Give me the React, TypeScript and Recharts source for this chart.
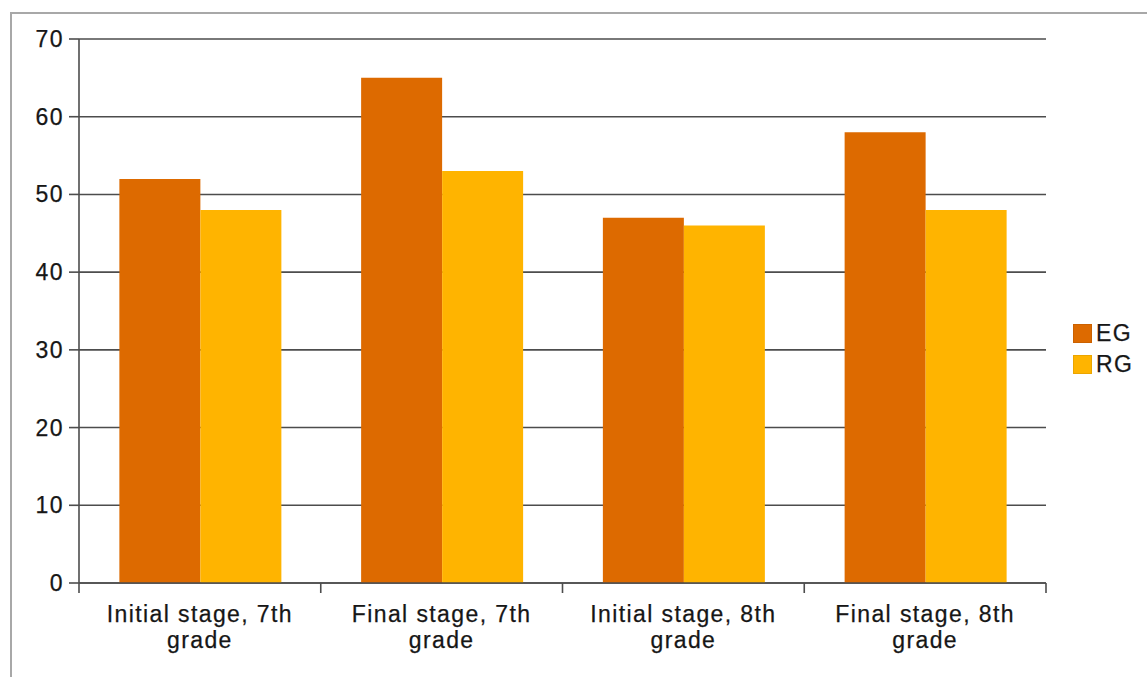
import React from "react";
import { BarChart, Bar, XAxis, YAxis, CartesianGrid } from "recharts";

const categories = [
  "Initial stage, 7th grade",
  "Final stage, 7th grade",
  "Initial stage, 8th grade",
  "Final stage, 8th grade",
];
const egValues = [52, 65, 47, 58];
const rgValues = [48, 53, 46, 48];
const yTicks = [0, 10, 20, 30, 40, 50, 60, 70];
const seriesNames = ["EG", "RG"];
const seriesColors = ["#dd6a00", "#ffb400"];

const data = categories.map((c, i) => ({ name: c, EG: egValues[i], RG: rgValues[i] }));

const FONT = "'Liberation Sans', Arial, sans-serif";
const TEXT = "#161616";
const GRID = "#4d4d4d";
const FS = 23;
const LS = "1.4px";

const W = 1147;
const H = 677;
const M = { top: 39, right: 101, bottom: 0, left: 0 };
const YW = 79;
const XH = 94;
const BAND = (W - M.left - M.right - YW) / categories.length;

const XTick = (props: any) => {
  const { x, y, payload, index } = props;
  const label: string = payload.value;
  const k = label.lastIndexOf(" ");
  const l1 = label.slice(0, k);
  const l2 = label.slice(k + 1);
  const left = x - BAND / 2;
  const right = x + BAND / 2;
  const tp = { textAnchor: "middle" as const, fill: TEXT, fontSize: FS, fontFamily: FONT, letterSpacing: LS, stroke: TEXT, strokeWidth: 0.25 };
  return (
    <g>
      <line x1={left} x2={left} y1={y} y2={y + 10} stroke={GRID} strokeWidth={1.6} />
      {index === categories.length - 1 && (
        <line x1={right} x2={right} y1={y} y2={y + 10} stroke={GRID} strokeWidth={1.6} />
      )}
      <text x={x} y={y + 39} {...tp}>
        {l1}
      </text>
      <text x={x} y={y + 65} {...tp}>
        {l2}
      </text>
    </g>
  );
};

const YTick = (props: any) => {
  const { x, y, payload } = props;
  return (
    <text
      x={x}
      y={y}
      dy={8}
      textAnchor="end"
      fill={TEXT}
      fontSize={FS}
      fontFamily={FONT}
      letterSpacing={LS}
      stroke={TEXT}
      strokeWidth={0.25}
    >
      {payload.value}
    </text>
  );
};

const LegendBox = () => (
  <div
    style={{
      position: "absolute",
      left: 1073,
      top: 318,
      fontFamily: FONT,
      fontSize: FS,
      color: TEXT,
      letterSpacing: LS,
      WebkitTextStroke: "0.25px #161616",
    }}
  >
    {seriesNames.map((n, i) => (
      <div key={n} style={{ display: "flex", alignItems: "center", height: 31 }}>
        <div
          style={{
            width: 19,
            height: 19,
            background: seriesColors[i],
            boxShadow: "inset 0 0 0 1px rgba(0,0,0,0.08)",
            marginRight: 4,
          }}
        />
        <span>{n}</span>
      </div>
    ))}
  </div>
);

export default function App() {
  return (
    <div style={{ position: "absolute", left: 0, top: 0, width: W, height: H, overflow: "hidden", background: "#fff" }}>
      <div
        style={{
          position: "absolute",
          left: 10,
          top: 12,
          width: 1300,
          height: 800,
          border: "2px solid #a8a8a8",
        }}
      />
      <div style={{ position: "absolute", left: 0, top: 0 }}>
        <BarChart
          width={W}
          height={H}
          data={data}
          margin={M}
          barGap={0}
          barCategoryGap="16.7%"
        >
          <CartesianGrid horizontal vertical={false} stroke={GRID} strokeWidth={1.6} strokeOpacity={1} />
          <XAxis
            dataKey="name"
            height={XH}
            tickLine={false}
            tickSize={0}
            tickMargin={0}
            axisLine={{ stroke: GRID, strokeWidth: 1.6 }}
            tick={<XTick />}
            interval={0}
          />
          <YAxis
            width={YW}
            domain={[0, 70]}
            ticks={yTicks}
            interval={0}
            tickSize={10}
            tickMargin={5}
            axisLine={{ stroke: GRID, strokeWidth: 1.6 }}
            tickLine={{ stroke: GRID, strokeWidth: 1.6 }}
            tick={<YTick />}
          />
          <YAxis
            yAxisId="right"
            orientation="right"
            width={0}
            domain={[0, 70]}
            tick={false}
            tickLine={false}
            axisLine={{ stroke: "#bdbdbd", strokeWidth: 1.6 }}
          />
          <Bar dataKey="EG" fill={seriesColors[0]} isAnimationActive={false} />
          <Bar dataKey="RG" fill={seriesColors[1]} isAnimationActive={false} />
        </BarChart>
      </div>
      <LegendBox />
    </div>
  );
}
